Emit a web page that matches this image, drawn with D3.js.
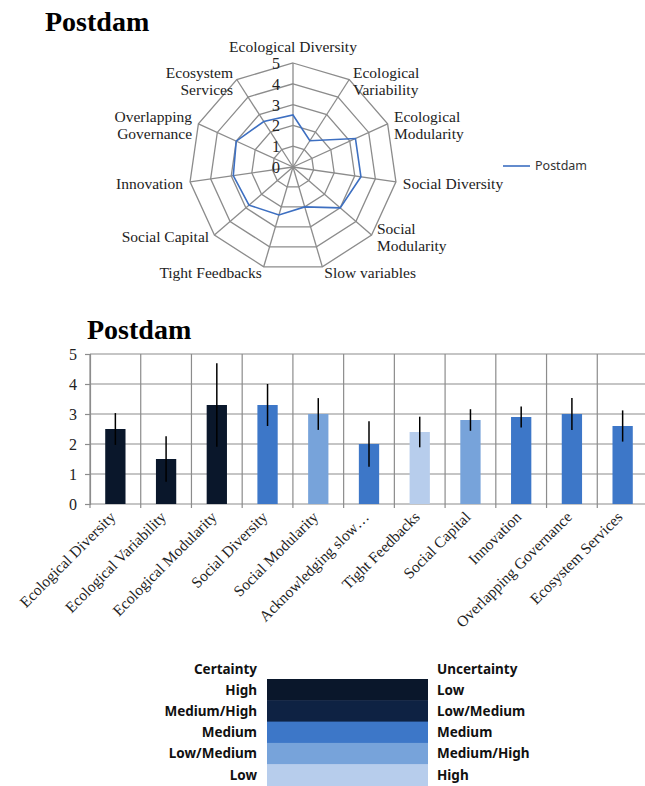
<!DOCTYPE html>
<html>
<head>
<meta charset="utf-8">
<script src="https://cdn.jsdelivr.net/npm/d3@7"></script>
<style>
  body { margin: 0; background: #fff; }
  svg { display: block; }
</style>
</head>
<body>
<svg id="chart" width="645" height="786"></svg>
<script>
// ---- data ----
var city = "Postdam";
var radar_axes = ["Ecological Diversity", "Ecological\nVariability", "Ecological\nModularity", "Social Diversity",
                  "Social\nModularity", "Slow variables", "Tight Feedbacks", "Social Capital", "Innovation",
                  "Overlapping\nGovernance", "Ecosystem\nServices"];
var bar_categories = ["Ecological Diversity", "Ecological Variability", "Ecological Modularity", "Social Diversity",
                      "Social Modularity", "Acknowledging slow…", "Tight Feedbacks", "Social Capital", "Innovation",
                      "Overlapping Governance", "Ecosystem Services"];
var scores = [2.5, 1.5, 3.3, 3.3, 3.0, 2.0, 2.4, 2.8, 2.9, 3.0, 2.6];
var errors = [0.53, 0.76, 1.39, 0.7, 0.53, 0.76, 0.51, 0.36, 0.35, 0.53, 0.52];
var certainty = ["High", "High", "High", "Medium", "Low/Medium", "Medium", "Low", "Low/Medium", "Medium", "Medium", "Medium"];
var radar_ticks = [0, 1, 2, 3, 4, 5];
var bar_ticks = [0, 1, 2, 3, 4, 5];
var certainty_levels = ["High", "Medium/High", "Medium", "Low/Medium", "Low"];
var uncertainty_levels = ["Low", "Low/Medium", "Medium", "Medium/High", "High"];
var level_colors = ["#0a172b", "#0e2243", "#3d77c8", "#77a3da", "#b7cdec"];

var serif = "'Liberation Serif', 'Times New Roman', serif";
var sans = "'Noto Sans', 'Liberation Sans', sans-serif";
var grid_color = "#8c8c8c";

var svg = d3.select("#chart");
var color = d3.scaleOrdinal().domain(certainty_levels).range(level_colors);

// ==== radar chart ====
var cx = 293, cy = 167, R = 104;
var r = d3.scaleLinear().domain([0, 5]).range([0, R]);
var ang = d3.scaleLinear().domain([0, radar_axes.length]).range([0, 2 * Math.PI]);

function pt(i, v) {
    return [cx + r(v) * Math.sin(ang(i)), cy - r(v) * Math.cos(ang(i))];
}

svg.append("text")
    .attr("x", 45).attr("y", 31)
    .attr("font-family", serif).attr("font-weight", "bold").attr("font-size", 28)
    .text(city);

var radar = svg.append("g");
var line = d3.line().curve(d3.curveLinearClosed);

// rings
radar.selectAll(".ring")
    .data(radar_ticks.slice(1))
    .enter().append("path")
    .attr("d", function(v) { return line(radar_axes.map(function(a, i) { return pt(i, v); })); })
    .attr("fill", "none").attr("stroke", grid_color).attr("stroke-width", 1.3);

// spokes
radar.selectAll(".spoke")
    .data(radar_axes)
    .enter().append("line")
    .attr("x1", cx).attr("y1", cy)
    .attr("x2", function(d, i) { return pt(i, 5)[0]; })
    .attr("y2", function(d, i) { return pt(i, 5)[1]; })
    .attr("stroke", grid_color).attr("stroke-width", 1.3);

// the series
radar.append("path")
    .attr("d", line(scores.map(function(v, i) { return pt(i, v); })))
    .attr("fill", "none").attr("stroke", "#3d6fc1").attr("stroke-width", 1.6);

// ring values
radar.selectAll(".rtick")
    .data(radar_ticks)
    .enter().append("text")
    .attr("x", cx - 13)
    .attr("y", function(v) { return cy - r(v) + 6; })
    .attr("text-anchor", "end")
    .attr("font-family", serif).attr("font-size", 16).attr("fill", "#222")
    .text(function(v) { return v; });

// axis names
var lh = 17;
radar_axes.forEach(function(name, i) {
    var lines = name.split("\n");
    var p = pt(i, 5);
    var s = Math.sin(ang(i)), c = Math.cos(ang(i));
    var anchor = s > 0.1 ? "start" : (s < -0.1 ? "end" : "middle");
    var x = p[0] + s * 7;
    var yc = p[1] + 2;
    if (c > 0.9) yc = p[1] - 16;
    if (c < -0.9) yc = p[1] + 6;
    var t = radar.append("text")
        .attr("text-anchor", anchor)
        .attr("font-family", serif).attr("font-size", 15.5).attr("fill", "#222");
    lines.forEach(function(l, k) {
        t.append("tspan")
            .attr("x", x)
            .attr("y", yc + (k - (lines.length - 1) / 2) * lh + 5)
            .text(l);
    });
});

// legend
svg.append("line").attr("x1", 503).attr("x2", 530).attr("y1", 166).attr("y2", 166)
    .attr("stroke", "#3d6fc1").attr("stroke-width", 1.6);
svg.append("text").attr("x", 535).attr("y", 170)
    .attr("font-family", sans).attr("font-size", 12.5).attr("fill", "#333")
    .text(city);

// ==== bar chart ====
var x = d3.scaleBand().domain(bar_categories).range([90, 648]).paddingInner(0.6).paddingOuter(0.3);
var y = d3.scaleLinear().domain([0, 5]).range([504, 354]);
var step = x.step();

svg.append("text")
    .attr("x", 87).attr("y", 339)
    .attr("font-family", serif).attr("font-weight", "bold").attr("font-size", 28)
    .text(city);

var bars = svg.append("g");

// horizontal grid
bars.selectAll(".hgrid")
    .data(bar_ticks)
    .enter().append("line")
    .attr("x1", 90).attr("x2", 645)
    .attr("y1", function(d) { return y(d); }).attr("y2", function(d) { return y(d); })
    .attr("stroke", grid_color).attr("stroke-width", 1.2);

// vertical grid at band edges
bars.selectAll(".vgrid")
    .data(d3.range(bar_categories.length + 1))
    .enter().append("line")
    .attr("x1", function(i) { return 90 + i * step; }).attr("x2", function(i) { return 90 + i * step; })
    .attr("y1", y(5)).attr("y2", y(0) + 4)
    .attr("stroke", grid_color).attr("stroke-width", 1.2);

// y axis
var yAxis = d3.axisLeft(y).tickValues(bar_ticks).tickFormat(d3.format("d")).tickSize(5).tickPadding(8);
var ya = bars.append("g").attr("transform", "translate(90,0)").call(yAxis);
ya.select(".domain").attr("stroke", grid_color).attr("stroke-width", 1.2);
ya.selectAll(".tick line").attr("stroke", grid_color).attr("stroke-width", 1.2);
ya.selectAll(".tick text").attr("font-family", serif).attr("font-size", 16).attr("fill", "#222");

// bars
bars.selectAll(".bar")
    .data(scores)
    .enter().append("rect")
    .attr("x", function(d, i) { return x(bar_categories[i]); })
    .attr("width", x.bandwidth())
    .attr("y", function(d) { return y(d); })
    .attr("height", function(d) { return y(0) - y(d); })
    .attr("fill", function(d, i) { return color(certainty[i]); });

// error bars
bars.selectAll(".err")
    .data(scores)
    .enter().append("line")
    .attr("x1", function(d, i) { return x(bar_categories[i]) + x.bandwidth() / 2; })
    .attr("x2", function(d, i) { return x(bar_categories[i]) + x.bandwidth() / 2; })
    .attr("y1", function(d, i) { return y(d + errors[i]); })
    .attr("y2", function(d, i) { return y(d - errors[i]); })
    .attr("stroke", "#000").attr("stroke-width", 1.5);

// category labels
bars.selectAll(".cat")
    .data(bar_categories)
    .enter().append("text")
    .attr("transform", function(d) {
        return "translate(" + (x(d) + x.bandwidth() / 2 + 1) + "," + (y(0) + 14) + ") rotate(-45)";
    })
    .attr("text-anchor", "end")
    .attr("font-family", serif).attr("font-size", 15.5).attr("fill", "#222")
    .text(function(d) { return d; });

// ==== certainty legend ====
var rowH = 21.3, legTop = 679, boxX = 267, boxW = 161;
var leg = svg.append("g").attr("font-family", sans).attr("font-weight", "bold").attr("font-size", 13.5).attr("fill", "#111");

leg.append("text").attr("x", 257).attr("y", legTop - 5).attr("text-anchor", "end").text("Certainty");
leg.append("text").attr("x", 437).attr("y", legTop - 5).text("Uncertainty");

leg.selectAll(".lrect")
    .data(certainty_levels)
    .enter().append("rect")
    .attr("x", boxX).attr("width", boxW)
    .attr("y", function(d, i) { return legTop + i * rowH; })
    .attr("height", rowH + 0.5)
    .attr("fill", function(d) { return color(d); });

leg.selectAll(".lcert")
    .data(certainty_levels)
    .enter().append("text")
    .attr("x", 257).attr("text-anchor", "end")
    .attr("y", function(d, i) { return legTop + i * rowH + 15.5; })
    .text(function(d) { return d; });

leg.selectAll(".lunc")
    .data(uncertainty_levels)
    .enter().append("text")
    .attr("x", 437)
    .attr("y", function(d, i) { return legTop + i * rowH + 15.5; })
    .text(function(d) { return d; });
</script>
</body>
</html>
